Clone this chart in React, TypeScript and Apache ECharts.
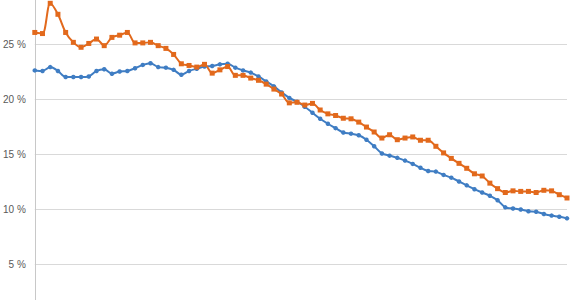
import React, { useEffect, useRef } from "react";
import * as echarts from "echarts";

const orangeSeries = [
  26.05, 25.95, 28.7, 27.7, 26.05, 25.15, 24.7, 25.05, 25.45, 24.85,
  25.6, 25.8, 26.05, 25.1, 25.1, 25.15, 24.85, 24.6, 24.05, 23.2,
  23.05, 22.9, 23.15, 22.35, 22.65, 22.95, 22.15, 22.15, 21.9, 21.7,
  21.35, 20.9, 20.45, 19.65, 19.7, 19.45, 19.6, 19.0, 18.65, 18.5,
  18.25, 18.2, 17.9, 17.45, 17.0, 16.45, 16.75, 16.3, 16.45, 16.55,
  16.25, 16.25, 15.7, 15.1, 14.6, 14.15, 13.7, 13.2, 13.0, 12.35,
  11.85, 11.5, 11.65, 11.6, 11.6, 11.5, 11.7, 11.65, 11.3, 11.0,
];

const blueSeries = [
  22.6, 22.55, 22.9, 22.55, 22.0, 22.0, 22.0, 22.05, 22.55, 22.7,
  22.3, 22.5, 22.55, 22.8, 23.1, 23.25, 22.9, 22.85, 22.65, 22.2,
  22.55, 22.75, 22.95, 23.0, 23.15, 23.2, 22.85, 22.6, 22.4, 22.05,
  21.6, 21.15, 20.6, 20.1, 19.75, 19.3, 18.75, 18.2, 17.75, 17.35,
  16.95, 16.85, 16.7, 16.3, 15.7, 15.05, 14.85, 14.65, 14.4, 14.1,
  13.75, 13.45, 13.4, 13.1, 12.85, 12.5, 12.15, 11.8, 11.5, 11.2,
  10.8, 10.15, 10.05, 9.95, 9.8, 9.75, 9.55, 9.4, 9.3, 9.15,
];

const categories = blueSeries.map((_, i) => String(i + 1));

// Visible tick labels (0 % and 30 % lie outside the cropped view)
const yTickLabels: Record<number, string> = {
  5: "5 %",
  10: "10 %",
  15: "15 %",
  20: "20 %",
  25: "25 %",
};

export default function App() {
  const ref = useRef<HTMLDivElement>(null);
  useEffect(() => {
    if (!ref.current) return;
    const chart = echarts.init(ref.current, undefined, { renderer: "svg" });
    chart.setOption({
      animation: false,
      backgroundColor: "#ffffff",
      grid: { left: 31, right: 18, top: 0, bottom: 0, containLabel: false },
      xAxis: {
        type: "category",
        data: categories,
        boundaryGap: false,
        axisLine: { show: false },
        axisTick: { show: false },
        axisLabel: { show: false },
        splitLine: { show: false },
      },
      yAxis: {
        type: "value",
        min: 0,
        max: 30,
        interval: 5,
        axisLine: { show: true, lineStyle: { color: "#c8c8c8", width: 1 } },
        axisTick: { show: false },
        axisLabel: {
          color: "#595959",
          fontSize: 10,
          fontFamily: "Liberation Sans",
          margin: 9,
          formatter: (v: number) => yTickLabels[Math.round(v)] ?? "",
        },
        splitLine: { show: true, lineStyle: { color: "#d9d9d9", width: 1 } },
      },
      series: [
        {
          type: "line",
          data: blueSeries,
          smooth: 0.3,
          symbol: "circle",
          symbolSize: 4.5,
          showAllSymbol: true,
          lineStyle: { color: "#3f7dc3", width: 2 },
          itemStyle: { color: "#3f7dc3" },
        },
        {
          type: "line",
          data: orangeSeries,
          smooth: 0.3,
          symbol: "rect",
          symbolSize: 5,
          showAllSymbol: true,
          lineStyle: { color: "#e2691c", width: 2 },
          itemStyle: { color: "#e2691c" },
        },
      ],
    });
    return () => chart.dispose();
  }, []);
  return (
    <div
      style={{
        position: "fixed",
        left: 0,
        top: 0,
        width: 585,
        height: 300,
        overflow: "hidden",
        background: "#fff",
      }}
    >
      <div
        ref={ref}
        style={{ position: "absolute", left: 0, top: -11, width: 585, height: 330 }}
      />
    </div>
  );
}
